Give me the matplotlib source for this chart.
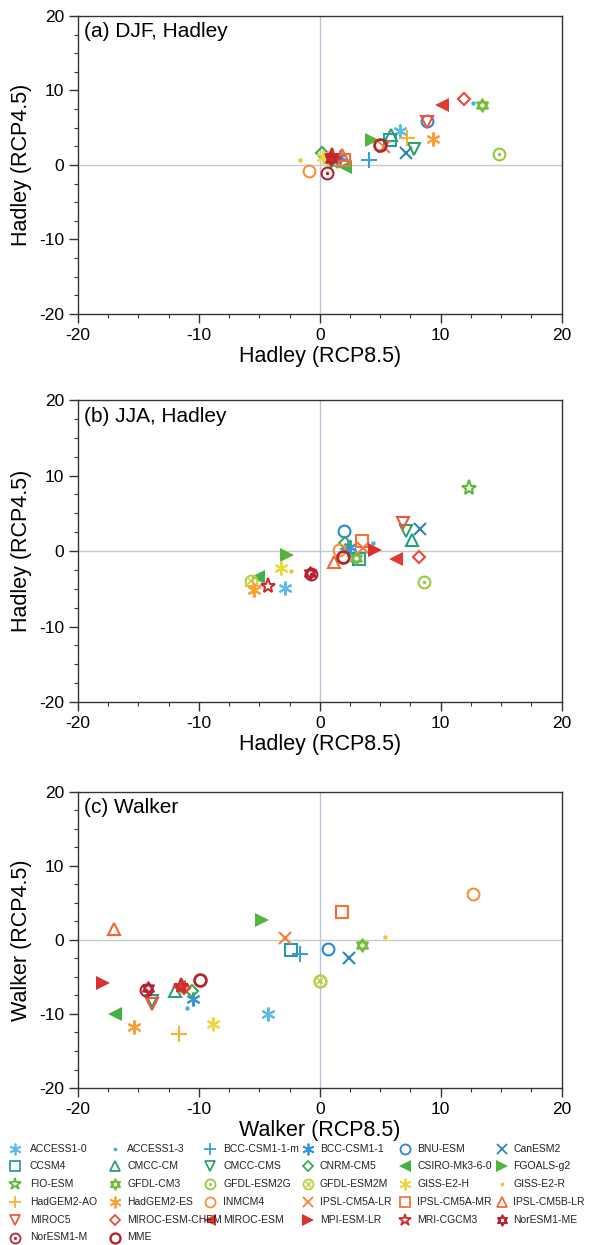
import numpy as np
import matplotlib
matplotlib.use('Agg')
import matplotlib.pyplot as plt
from matplotlib.path import Path
from matplotlib.ticker import MultipleLocator

plt.rcParams['font.family'] = ['Liberation Sans', 'DejaVu Sans']
plt.rcParams['axes.unicode_minus'] = False

models = ['ACCESS1-0', 'ACCESS1-3', 'BCC-CSM1-1-m', 'BCC-CSM1-1', 'BNU-ESM', 'CanESM2',
          'CCSM4', 'CMCC-CM', 'CMCC-CMS', 'CNRM-CM5', 'CSIRO-Mk3-6-0', 'FGOALS-g2',
          'FIO-ESM', 'GFDL-CM3', 'GFDL-ESM2G', 'GFDL-ESM2M', 'GISS-E2-H', 'GISS-E2-R',
          'HadGEM2-AO', 'HadGEM2-ES', 'INMCM4', 'IPSL-CM5A-LR', 'IPSL-CM5A-MR', 'IPSL-CM5B-LR',
          'MIROC5', 'MIROC-ESM-CHEM', 'MIROC-ESM', 'MPI-ESM-LR', 'MRI-CGCM3', 'NorESM1-ME',
          'NorESM1-M', 'MME']

kinds = ['ast', 'dot', 'plus', 'ast', 'circ', 'x',
         'sq', 'tu', 'td', 'dia', 'tl', 'tr',
         'star', 'hex', 'cdot', 'cx', 'ast', 'dot',
         'plus', 'ast', 'circ', 'x', 'sq', 'tu',
         'td', 'dia', 'tl', 'tr', 'star', 'hex',
         'cdot', 'mme']

colors = ['#5cbce8', '#4aaee2', '#3b9ddb', '#3596d8', '#2a88cf', '#2b86b4',
          '#2a9a9c', '#26a07e', '#2ba26c', '#3aab52', '#42b244', '#52b63c',
          '#5cb93a', '#72bd3a', '#95c943', '#bcd13f', '#ead93e', '#f2c232',
          '#f8b232', '#f8a033', '#f79038', '#f77f3a', '#f6713a', '#f4663a',
          '#ef573a', '#e84a38', '#e03c31', '#d8312e', '#cf2a30', '#bd2433',
          '#b02233', '#b0282c']

# panel (a) DJF Hadley
djf_x = [6.6, 12.7, 4.1, 1.7, 8.9, 7.1,
         5.8, 5.9, 7.8, 0.15, 2.1, 4.35,
         1.2, 13.4, 14.8, 0.8, 0.3, -1.65,
         7.25, 9.4, -0.9, 5.3, 2.0, 1.8,
         8.9, 11.9, 10.1, 1.3, 1.0, 0.9,
         0.6, 5.0]
djf_y = [4.6, 8.3, 0.7, 1.1, 5.9, 1.6,
         3.3, 4.0, 2.15, 1.6, -0.3, 3.4,
         0.4, 8.0, 1.5, 0.9, 1.1, 0.7,
         3.6, 3.5, -0.75, 2.4, 0.6, 1.3,
         5.7, 8.9, 8.0, 1.0, 1.2, 0.8,
         -1.1, 2.7]

# panel (b) JJA Hadley
jja_x = [-2.9, 4.4, 2.3, 2.5, 2.0, 8.3,
         3.25, 7.6, 7.15, 2.1, -5.1, -2.75,
         12.3, 3.0, 8.6, -5.65, -3.2, -2.35,
         -5.5, -5.4, 1.6, 3.6, 3.5, 1.15,
         6.9, 8.2, 6.3, 4.55, -4.25, -0.8,
         -0.75, 1.9]
jja_y = [-4.85, 1.1, 0.3, 0.6, 2.7, 2.9,
         -1.1, 1.4, 2.65, 1.0, -3.5, -0.5,
         8.4, -0.9, -4.1, -4.0, -2.3, -2.65,
         -4.6, -5.1, 0.1, 0.4, 1.35, -1.5,
         3.75, -0.8, -1.1, 0.1, -4.6, -2.9,
         -3.1, -0.75]

# panel (c) Walker
wlk_x = [-4.3, -11.0, -1.65, -10.45, 0.7, 2.4,
         -2.35, -12.0, -13.9, -10.6, -16.9, -4.75,
         -11.4, 3.45, 0.05, 0.05, -8.85, 5.4,
         -11.6, -15.4, 12.7, -2.9, 1.8, -17.0,
         -13.85, -11.2, -11.6, -17.9, -11.5, -14.2,
         -14.4, -9.9]
wlk_y = [-9.95, -9.15, -1.95, -8.0, -1.25, -2.5,
         -1.4, -6.9, -8.2, -6.9, -9.95, 2.65,
         -6.4, -0.7, -5.5, -5.55, -11.35, 0.4,
         -12.7, -11.75, 6.2, 0.2, 3.8, 1.45,
         -8.7, -6.5, -6.3, -5.8, -6.2, -6.5,
         -6.7, -5.4]

panels = [
    ('(a) DJF, Hadley', 'Hadley (RCP8.5)', 'Hadley (RCP4.5)', djf_x, djf_y),
    ('(b) JJA, Hadley', 'Hadley (RCP8.5)', 'Hadley (RCP4.5)', jja_x, jja_y),
    ('(c) Walker', 'Walker (RCP8.5)', 'Walker (RCP4.5)', wlk_x, wlk_y),
]

# star of David outline
hexagram = Path([(0, 1), (-0.866, -0.5), (0.866, -0.5), (0, 1),
                 (0, -1), (0.866, 0.5), (-0.866, 0.5), (0, -1)],
                [Path.MOVETO, Path.LINETO, Path.LINETO, Path.CLOSEPOLY] * 2)


def put(ax, x, y, kind, c, s=1.0):
    kw = dict(ls='none', color=c, clip_on=False)
    lw = 1.5 * s
    if kind == 'ast':
        ax.plot(x, y, marker=(6, 2, 0), ms=10 * s, mew=lw, **kw)
    elif kind == 'dot':
        ax.plot(x, y, marker='o', ms=3.2 * s, mew=0, **kw)
    elif kind == 'plus':
        ax.plot(x, y, marker='+', ms=11 * s, mew=lw, **kw)
    elif kind == 'x':
        ax.plot(x, y, marker='x', ms=9 * s, mew=lw, **kw)
    elif kind in ('circ', 'mme'):
        ax.plot(x, y, marker='o', ms=8.5 * s, mfc='none',
                mew=(2.0 if kind == 'mme' else 1.5) * s, **kw)
    elif kind == 'sq':
        ax.plot(x, y, marker='s', ms=8 * s, mfc='none', mew=lw, **kw)
    elif kind == 'tu':
        ax.plot(x, y, marker='^', ms=9 * s, mfc='none', mew=lw, **kw)
    elif kind == 'td':
        ax.plot(x, y, marker='v', ms=9 * s, mfc='none', mew=lw, **kw)
    elif kind == 'dia':
        ax.plot(x, y, marker='D', ms=6.5 * s, mfc='none', mew=lw, **kw)
    elif kind == 'tl':
        ax.plot(x, y, marker='<', ms=10 * s, mew=0, **kw)
    elif kind == 'tr':
        ax.plot(x, y, marker='>', ms=10 * s, mew=0, **kw)
    elif kind == 'star':
        ax.plot(x, y, marker='*', ms=11 * s, mfc='none', mew=lw, **kw)
    elif kind == 'hex':
        ax.plot(x, y, marker=hexagram, ms=9 * s, mfc='none', mew=lw, **kw)
    elif kind == 'cdot':
        ax.plot(x, y, marker='o', ms=8.5 * s, mfc='none', mew=lw, **kw)
        ax.plot(x, y, marker='o', ms=2.5 * s, mew=0, **kw)
    elif kind == 'cx':
        ax.plot(x, y, marker='o', ms=8.5 * s, mfc='none', mew=lw, **kw)
        ax.plot(x, y, marker='x', ms=5 * s, mew=1.1 * s, **kw)


fig = plt.figure(figsize=(5.9, 12.45), dpi=100)
boxes = [[0.132, 0.7478, 0.820, 0.2394],
         [0.132, 0.4361, 0.820, 0.2426],
         [0.132, 0.1261, 0.820, 0.2378]]

for box, (title, xl, yl, xs, ys) in zip(boxes, panels):
    ax = fig.add_axes(box)
    ax.set_xlim(-20, 20)
    ax.set_ylim(-20, 20)
    ax.axhline(0, color='#c6cbd0', lw=1, zorder=0)
    ax.axvline(0, color='#b4c6d8', lw=1, zorder=0)
    for i in range(len(models)):
        put(ax, xs[i], ys[i], kinds[i], colors[i])
    ax.xaxis.set_major_locator(MultipleLocator(10))
    ax.yaxis.set_major_locator(MultipleLocator(10))
    ax.xaxis.set_minor_locator(MultipleLocator(2.5))
    ax.yaxis.set_minor_locator(MultipleLocator(2.5))
    ax.tick_params(which='major', length=6.5, width=1, labelsize=12.5,
                   direction='out', top=False, right=False, color='#333333')
    ax.tick_params(which='minor', length=3, width=0.8, direction='out',
                   top=False, right=False, color='#333333')
    for sp in ax.spines.values():
        sp.set_linewidth(1)
        sp.set_color('#333333')
    ax.set_xlabel(xl, fontsize=15.5, labelpad=2)
    ax.set_ylabel(yl, fontsize=15.5, labelpad=5)
    ax.text(0.012, 0.978, title, transform=ax.transAxes, va='top', ha='left',
            fontsize=15)

# legend drawn in pixel coordinates
lax = fig.add_axes([0, 0, 1, 1])
lax.set_xlim(0, 590)
lax.set_ylim(1245, 0)
lax.axis('off')
lax.patch.set_alpha(0)
col_mark = [15, 115, 210, 308, 405, 502]
col_text = [30, 127, 223, 320, 417, 513]
for i, name in enumerate(models):
    r, c = divmod(i, 6)
    yy = 1148.5 + r * 17.8
    put(lax, col_mark[c], yy, kinds[i], colors[i], s=0.85)
    lax.text(col_text[c], yy, name, fontsize=7.5, va='center', ha='left',
             color='#222222')

fig.savefig('out.png', dpi=100)
